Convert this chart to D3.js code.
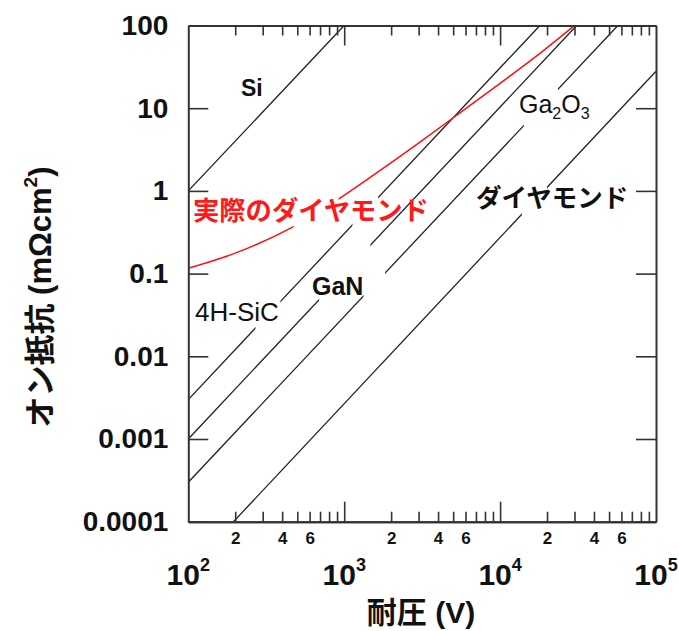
<!DOCTYPE html>
<html>
<head>
<meta charset="utf-8">
<script src="https://cdn.jsdelivr.net/npm/d3@7/dist/d3.min.js"></script>
<style>
  html, body { margin: 0; padding: 0; background: #fff; }
  svg { display: block; }
  text { font-family: "Liberation Sans", Arial, "Noto Sans CJK JP", sans-serif; }
</style>
</head>
<body>
<svg id="chart" width="679" height="631"></svg>
<script>
// Theoretical on-resistance limit lines: start/end points in (V, mΩcm²)
const lineNames  = ["Si", "4H-SiC", "GaN", "Ga2O3", "ダイヤモンド"];
const lineStartV = [100, 100, 100, 100, 195];
const lineStartR = [1, 0.003, 0.001, 0.0003, 0.0001];
const lineEndV   = [1000, 18000, 31000, 57000, 100000];
const lineEndR   = [100, 100, 100, 100, 28];
// voltage ranges where each line is broken to leave room for a label
const lineGaps = [
  [],
  [[270, 390], [1130, 1650]],
  [[690, 1470]],
  [[1330, 1830], [14200, 23500]],
  [[13800, 20000]]
];

// measured ("実際の") diamond devices
const realV = [100, 200, 470, 940, 1700, 3060, 5530, 10000, 18000, 30000];
const realR = [0.116, 0.177, 0.367, 0.82, 1.77, 3.9, 8.8, 20, 46, 100];
const realGaps = [[475, 920]];

// axis ticks
const yTicks = [0.0001, 0.001, 0.01, 0.1, 1, 10, 100];
const yTickLabels = ["0.0001", "0.001", "0.01", "0.1", "1", "10", "100"];
const xMajor = [100, 1000, 10000, 100000];
const xMajorExp = ["2", "3", "4", "5"];
const xMinorMult = [2, 3, 4, 5, 6, 7, 8, 9];
const xMinorLabelled = [2, 4, 6];

const svg = d3.select("#chart");
const L = 188.3, R = 656, T = 25.5, B = 521.7;

const x = d3.scaleLog().domain([100, 100000]).range([L, R]);
const y = d3.scaleLog().domain([0.0001, 100]).range([B, T]);

const xMinor = [];
xMajor.slice(0, -1).forEach(d => xMinorMult.forEach(m => xMinor.push(d * m)));

const defs = svg.append("defs");
function clipFor(id, gaps) {
  // visible x-intervals between the gaps
  const cp = defs.append("clipPath").attr("id", id);
  let start = L - 5;
  const sorted = gaps.slice().sort((a, b) => a[0] - b[0]);
  sorted.forEach(g => {
    cp.append("rect").attr("x", start).attr("y", 0)
      .attr("width", Math.max(0, x(g[0]) - start)).attr("height", 631);
    start = x(g[1]);
  });
  cp.append("rect").attr("x", start).attr("y", 0)
    .attr("width", R + 5 - start).attr("height", 631);
  return "url(#" + id + ")";
}

// plot-area clip
defs.append("clipPath").attr("id", "plotArea")
  .append("rect").attr("x", L).attr("y", T).attr("width", R - L).attr("height", B - T);

const plot = svg.append("g").attr("clip-path", "url(#plotArea)");

// limit lines
lineNames.forEach((name, i) => {
  plot.append("g").attr("clip-path", clipFor("gap" + i, lineGaps[i]))
    .append("line")
    .attr("x1", x(lineStartV[i])).attr("y1", y(lineStartR[i]))
    .attr("x2", x(lineEndV[i])).attr("y2", y(lineEndR[i]))
    .attr("stroke", "#222").attr("stroke-width", 1.3);
});

// measured diamond curve
const realPts = realV.map((v, i) => [v, realR[i]]);
plot.append("g").attr("clip-path", clipFor("gapReal", realGaps))
  .append("path")
  .datum(realPts)
  .attr("d", d3.line().x(d => x(d[0])).y(d => y(d[1])).curve(d3.curveMonotoneX))
  .attr("fill", "none").attr("stroke", "#ff1010").attr("stroke-width", 1.5);

// axes (ticks point inward)
function styleAxis(g) {
  g.selectAll("path.domain").attr("stroke", "#333").attr("stroke-width", 2);
  g.selectAll(".tick line").attr("stroke", "#333").attr("stroke-width", 1.6);
}

svg.append("g").attr("transform", `translate(0,${B})`)
  .call(d3.axisBottom(x).tickValues(xMinor).tickSize(-10).tickSizeOuter(0).tickPadding(10)
    .tickFormat(d => {
      const m = Math.round(d / Math.pow(10, Math.floor(Math.log10(d) + 1e-9)));
      return xMinorLabelled.includes(m) ? String(m) : "";
    }))
  .call(styleAxis)
  .call(g => g.selectAll("text").attr("font-size", 17).attr("font-weight", "bold").attr("fill", "#111"));

svg.append("g").attr("transform", `translate(0,${B})`)
  .call(d3.axisBottom(x).tickValues(xMajor.slice(1, -1)).tickSize(-20).tickSizeOuter(0).tickFormat(""))
  .call(styleAxis);

svg.append("g").attr("transform", `translate(0,${T})`)
  .call(d3.axisTop(x).tickValues(xMinor).tickSize(-10).tickSizeOuter(0).tickFormat(""))
  .call(styleAxis);
svg.append("g").attr("transform", `translate(0,${T})`)
  .call(d3.axisTop(x).tickValues(xMajor.slice(1, -1)).tickSize(-20).tickSizeOuter(0).tickFormat(""))
  .call(styleAxis);

svg.append("g").attr("transform", `translate(${L},0)`)
  .call(d3.axisLeft(y).tickValues(yTicks).tickSize(-20).tickSizeOuter(0).tickPadding(20)
    .tickFormat((d, i) => yTickLabels[i]))
  .call(styleAxis)
  .call(g => g.selectAll("text").attr("font-size", 28).attr("font-weight", "bold").attr("fill", "#111"));

svg.append("g").attr("transform", `translate(${R},0)`)
  .call(d3.axisRight(y).tickValues(yTicks).tickSize(-20).tickSizeOuter(0).tickFormat(""))
  .call(styleAxis);

// decade labels 10^n
xMajor.forEach((d, i) => {
  const t = svg.append("text")
    .attr("x", x(d)).attr("y", 585)
    .attr("text-anchor", "middle")
    .attr("font-size", 30).attr("font-weight", "bold").attr("fill", "#111");
  t.append("tspan").text("10");
  t.append("tspan").attr("font-size", 18).attr("dy", -14).text(xMajorExp[i]);
});

// axis titles
svg.append("text")
  .attr("x", 421).attr("y", 623).attr("text-anchor", "middle")
  .attr("font-size", 30).attr("font-weight", "bold").attr("fill", "#111")
  .text("耐圧 (V)");

const yt = svg.append("text")
  .attr("transform", "translate(51,297) rotate(-90)")
  .attr("text-anchor", "middle")
  .attr("font-size", 31).attr("font-weight", "bold").attr("fill", "#111");
yt.append("tspan").text("オン抵抗 (mΩcm");
yt.append("tspan").attr("font-size", 19).attr("dy", -14).text("2");
yt.append("tspan").attr("dy", 14).text(")");

// series labels
function label(txt, lx, ly, opts) {
  return svg.append("text").attr("x", lx).attr("y", ly)
    .attr("font-size", opts.size).attr("font-weight", opts.weight || "normal")
    .attr("fill", opts.color || "#111").text(txt);
}
label("Si", 241, 96, { size: 23, weight: "bold" });
label("4H-SiC", 195, 321, { size: 26 });
label("GaN", 312, 295, { size: 25, weight: "bold" });
const ga = svg.append("text").attr("x", 519).attr("y", 113)
  .attr("font-size", 25).attr("fill", "#111");
ga.append("tspan").text("Ga");
ga.append("tspan").attr("font-size", 16).attr("dy", 6).text("2");
ga.append("tspan").attr("dy", -6).text("O");
ga.append("tspan").attr("font-size", 16).attr("dy", 6).text("3");

svg.append("text").attr("x", 476).attr("y", 198).attr("dominant-baseline", "central")
  .attr("font-family", "'Noto Sans CJK JP', sans-serif")
  .attr("font-size", 25.5).attr("font-weight", "bold").attr("fill", "#111")
  .text("ダイヤモンド");
svg.append("text").attr("x", 193).attr("y", 211).attr("dominant-baseline", "central")
  .attr("font-family", "'Noto Sans CJK JP', sans-serif")
  .attr("font-size", 26.3).attr("font-weight", "bold").attr("fill", "#ff1a1a")
  .text("実際のダイヤモンド");
</script>
</body>
</html>
